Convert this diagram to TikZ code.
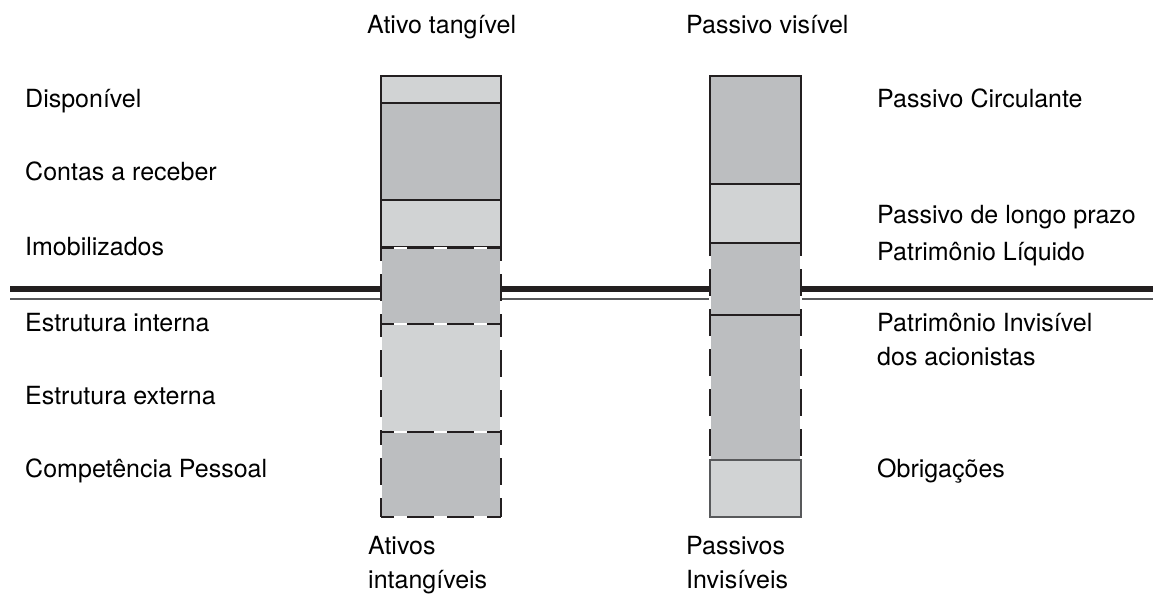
\documentclass[tikz,border=0pt]{standalone}
\usepackage{fontspec}
\setmainfont{TeX Gyre Heros}
\definecolor{lightg}{HTML}{D1D3D4}
\definecolor{darkg}{HTML}{BCBEC0}
\definecolor{ink}{HTML}{231F20}
\definecolor{rulegray}{HTML}{58595B}
\newcommand\dashedcell[5]{%
  \fill[#1] (#2,#3) rectangle (#4,#5);
  \draw[dashside] (#2,#3) -- (#4,#3);
  \draw[dashside] (#2,#5) -- (#4,#5);
  \draw[dashside] (#2,#3) -- (#2,#5);
  \draw[dashside] (#4,#3) -- (#4,#5);
}
\newcommand\solidcell[5]{%
  \fill[#1] (#2,#3) rectangle (#4,#5);
  \draw[solidside] (#2,#3) rectangle (#4,#5);
}
\begin{document}
\begin{tikzpicture}[x=1pt,y=-1pt,
  lbl/.style={anchor=base west, inner sep=0pt, font=\fontsize{25}{30}\selectfont},
  solidside/.style={draw=ink, line width=1.2pt},
  dashside/.style={draw=ink, line width=1.2pt, dash pattern=on 27pt off 13pt, dash phase=14pt,
    preaction={draw=white, solid, line width=1.2pt}},
]
\useasboundingbox (0,0) rectangle (1153,597);
% horizontal rules
\coordinate (ruleL) at (10,289);
\coordinate (ruleR) at (1153,289);
\coordinate (thinL) at (10,299);
\coordinate (thinR) at (1153,299);
\draw[ink, line width=6pt] (ruleL) -- (ruleR);
\draw[rulegray, line width=1.5pt] (thinL) -- (thinR);
% left column
\solidcell{lightg}{381}{76}{501}{103}
\solidcell{darkg}{381}{103}{501}{200}
\solidcell{lightg}{381}{200}{501}{247}
\dashedcell{darkg}{381}{248}{501}{324}
\dashedcell{lightg}{381}{324}{501}{432}
\dashedcell{darkg}{381}{432}{501}{517}
% right column
\dashedcell{darkg}{710}{243}{801}{460}
\draw[solidside] (710,315) -- (801,315);
\solidcell{darkg}{710}{76}{801}{184}
\solidcell{lightg}{710}{184}{801}{243}
\fill[lightg] (710,460) rectangle (801,517);
\draw[rulegray, line width=1.8pt] (710,460) rectangle (801,517);
% labels
\node[lbl] (at) at (367,33) {Ativo tangível};
\node[lbl] (pv) at (686,33) {Passivo visível};
\node[lbl] (l1) at (25,107) {Disponível};
\node[lbl] (l2) at (25,180) {Contas a receber};
\node[lbl] (l3) at (25,255) {Imobilizados};
\node[lbl] (l4) at (25,331) {Estrutura interna};
\node[lbl] (l5) at (25,404) {Estrutura externa};
\node[lbl] (l6) at (25,477) {Competência Pessoal};
\node[lbl] (r1) at (877,107) {Passivo Circulante};
\node[lbl] (r2) at (877,223) {Passivo de longo prazo};
\node[lbl] (r3) at (877,260) {Patrimônio Líquido};
\node[lbl] (r4) at (877,331) {Patrimônio Invisível};
\node[lbl] (r5) at (877,365) {dos acionistas};
\node[lbl] (r6) at (877,477) {Obrigações};
\node[lbl] (b1) at (368,554) {Ativos};
\node[lbl] (b2) at (368,588) {intangíveis};
\node[lbl] (b3) at (686,554) {Passivos};
\node[lbl] (b4) at (686,588) {Invisíveis};
\end{tikzpicture}
\end{document}
